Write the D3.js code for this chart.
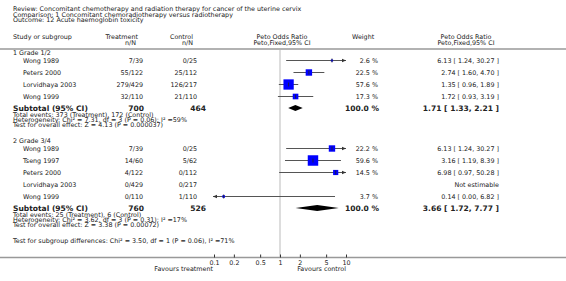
<!DOCTYPE html>
<html>
<head>
<meta charset="utf-8">
<script src="https://cdn.jsdelivr.net/npm/d3@7"></script>
<style>
    body { margin: 0; background: #fff; }
    svg text { font-family: "DejaVu Sans", sans-serif; fill: #222; }
</style>
</head>
<body>
<div id="chart"></div>
<script>
// ---- data ----
const headerLines = [
    "Review:  Concomitant chemotherapy and radiation therapy for cancer of the uterine cervix",
    "Comparison:  1 Concomitant chemoradiotherapy versus radiotherapy",
    "Outcome:  12 Acute haemoglobin toxicity"
]

const groupNames = ["1 Grade 1/2", "2 Grade 3/4"]

const studies1 = ["Wong 1989", "Peters 2000", "Lorvidhaya 2003", "Wong 1999"]
const treat1 = ["7/39", "55/122", "279/429", "32/110"]
const ctrl1 = ["0/25", "25/112", "126/217", "21/110"]
const weight1 = [2.6, 22.5, 57.6, 17.3]
const or1 = [6.13, 2.74, 1.35, 1.72]
const lo1 = [1.24, 1.60, 0.96, 0.93]
const hi1 = [30.27, 4.70, 1.89, 3.19]

const studies2 = ["Wong 1989", "Tseng 1997", "Peters 2000", "Lorvidhaya 2003", "Wong 1999"]
const treat2 = ["7/39", "14/60", "4/122", "0/429", "0/110"]
const ctrl2 = ["0/25", "5/62", "0/112", "0/217", "1/110"]
const weight2 = [22.2, 59.6, 14.5, null, 3.7]
const or2 = [6.13, 3.16, 6.98, null, 0.14]
const lo2 = [1.24, 1.19, 0.97, null, 0.00]
const hi2 = [30.27, 8.39, 50.28, null, 6.82]

const subtotalN = [[700, 464], [760, 526]]
const subtotalOR = [[1.71, 1.33, 2.21], [3.66, 1.72, 7.77]]
const subtotalNotes = [
    ["Total events: 373 (Treatment), 172 (Control)",
     "Heterogeneity: Chi\u00b2 = 7.31, df = 3 (P = 0.06); I\u00b2 =59%",
     "Test for overall effect: Z = 4.13 (P = 0.000037)"],
    ["Total events: 25 (Treatment), 6 (Control)",
     "Heterogeneity: Chi\u00b2 = 3.62, df = 3 (P = 0.31); I\u00b2 =17%",
     "Test for overall effect: Z = 3.38 (P = 0.00072)"]
]
const subgroupTest = "Test for subgroup differences: Chi\u00b2 = 3.50, df = 1 (P = 0.06), I\u00b2 =71%"
const axisTicks = [0.1, 0.2, 0.5, 1, 2, 5, 10]

const W = 566, H = 281
const fmt = d3.format(".2f")

const svg = d3.select("#chart").append("svg")
    .attr("width", W)
    .attr("height", H)

// font size calibration: measure a few strings against their widths in the reference
function measure(s, px, bold) {
    const t = svg.append("text")
        .style("font-size", px + "px")
        .style("font-weight", bold ? "bold" : "normal")
        .text(s)
    const w = t.node().getComputedTextLength()
    t.remove()
    return w
}
const calib = [["Study or subgroup", 59], [subgroupTest, 222], [headerLines[0], 293], [subtotalNotes[0][2], 149]]
const fs = d3.mean(calib, c => 10 * c[1] / measure(c[0], 10))
const fsBold = 10 * 75 / measure("Subtotal (95% CI)", 10, true)

const x = d3.scaleLog().domain([0.1, 10]).range([214, 346])
const size = d3.scaleSqrt().domain([0, 60]).range([0, 10.5])

function txt(xp, yp, s, anchor, opts) {
    opts = opts || {}
    return svg.append("text")
        .attr("x", xp).attr("y", yp)
        .attr("dy", "0.35em")
        .attr("text-anchor", anchor || "start")
        .style("font-size", (opts.size || fs) + "px")
        .style("font-weight", opts.bold ? "bold" : "normal")
        .text(s)
}

/* HEADER */
headerLines.forEach((l, i) => txt(13, 9 + i * 5.5, l))
txt(13, 37, "Study or subgroup")
txt(138, 37, "Treatment", "end")
txt(136, 43, "n/N", "end")
txt(193, 37, "Control", "end")
txt(193, 43, "n/N", "end")
txt(282, 37, "Peto Odds Ratio", "middle")
txt(282, 43, "Peto,Fixed,95% CI", "middle")
txt(352, 37, "Weight")
txt(466, 37, "Peto Odds Ratio", "middle")
txt(466, 43, "Peto,Fixed,95% CI", "middle")

svg.append("line")
    .attr("x1", 0).attr("x2", W)
    .attr("y1", 49).attr("y2", 49)
    .attr("stroke", "#999").attr("stroke-width", 1.5)

/* REFERENCE LINE */
svg.append("line")
    .attr("x1", x(1)).attr("x2", x(1))
    .attr("y1", 50).attr("y2", 257)
    .attr("stroke", "#ddd").attr("stroke-width", 2)

function arrow(xp, yp, dir) {
    svg.append("path")
        .attr("d", `M${xp},${yp} l${-dir * 4},-1.8 l0,3.6 z`)
        .attr("fill", "#333")
}

function studyRow(yp, name, t, c, w, or, lo, hi) {
    txt(23, yp, name)
    txt(143, yp, t, "end")
    txt(197, yp, c, "end")
    if (or == null) {
        txt(499, yp, "Not estimable", "end")
        return
    }
    txt(378, yp, w.toFixed(1) + " %", "end")
    txt(499, yp, `${fmt(or)} [ ${fmt(lo)}, ${fmt(hi)} ]`, "end")

    const [d0, d1] = x.domain()
    const x1 = lo < d0 ? x(d0) - 1 : x(lo)
    const x2 = hi > d1 ? x(d1) : x(hi)
    svg.append("line")
        .attr("x1", x1).attr("x2", x2)
        .attr("y1", yp).attr("y2", yp)
        .attr("stroke", "#555").attr("stroke-width", 1)
    if (lo < d0) arrow(x1, yp, -1)
    if (hi > d1) arrow(x2, yp, 1)

    const s = size(w)
    svg.append("rect")
        .attr("x", x(or) - s / 2).attr("y", yp - s / 2)
        .attr("width", s).attr("height", s)
        .attr("fill", "#0000ff")
    svg.append("line")
        .attr("x1", x(or)).attr("x2", x(or))
        .attr("y1", yp - 2).attr("y2", yp + 2)
        .attr("stroke", "#222").attr("stroke-width", 0.8)
}

function subtotalRow(yp, n, ci, notes) {
    const b = {size: fsBold, bold: true}
    txt(13, yp, "Subtotal (95% CI)", "start", b)
    txt(144, yp, n[0], "end", b)
    txt(206, yp, n[1], "end", b)
    txt(379, yp, "100.0 %", "end", b)
    txt(499, yp, `${fmt(ci[0])} [ ${fmt(ci[1])}, ${fmt(ci[2])} ]`, "end", b)
    svg.append("path")
        .attr("d", `M${x(ci[1])},${yp} L${x(ci[0])},${yp - 3} L${x(ci[2])},${yp} L${x(ci[0])},${yp + 3} Z`)
        .attr("fill", "#000")
    notes.forEach((l, i) => txt(13, yp + 6.5 + i * 5, l))
}

/* GROUP 1 */
txt(13, 53, groupNames[0])
studies1.forEach((s, i) => studyRow(60.5 + i * 12, s, treat1[i], ctrl1[i], weight1[i], or1[i], lo1[i], hi1[i]))
subtotalRow(108, subtotalN[0], subtotalOR[0], subtotalNotes[0])

/* GROUP 2 */
txt(13, 141, groupNames[1])
studies2.forEach((s, i) => studyRow(148.5 + i * 12, s, treat2[i], ctrl2[i], weight2[i], or2[i], lo2[i], hi2[i]))
subtotalRow(208, subtotalN[1], subtotalOR[1], subtotalNotes[1])

txt(13, 241, subgroupTest)

/* X AXIS */
svg.append("line")
    .attr("x1", 0).attr("x2", W)
    .attr("y1", 257.5).attr("y2", 257.5)
    .attr("stroke", "#999").attr("stroke-width", 1.5)

const xAxis = svg.append("g")
    .attr("transform", "translate(0, 257.5)")
    .call(d3.axisBottom(x)
        .tickValues(axisTicks)
        .tickFormat(d => d)
        .tickSizeInner(-3)
        .tickSizeOuter(0)
        .tickPadding(2.5))
xAxis.select(".domain").remove()
xAxis.selectAll(".tick line").attr("stroke", "#333")
xAxis.selectAll(".tick text")
    .style("font-size", fs + "px")
    .style("font-family", "DejaVu Sans, sans-serif")
    .attr("fill", "#222")

txt(213, 269, "Favours treatment", "end")
txt(346, 269, "Favours control", "end")
</script>
</body>
</html>
